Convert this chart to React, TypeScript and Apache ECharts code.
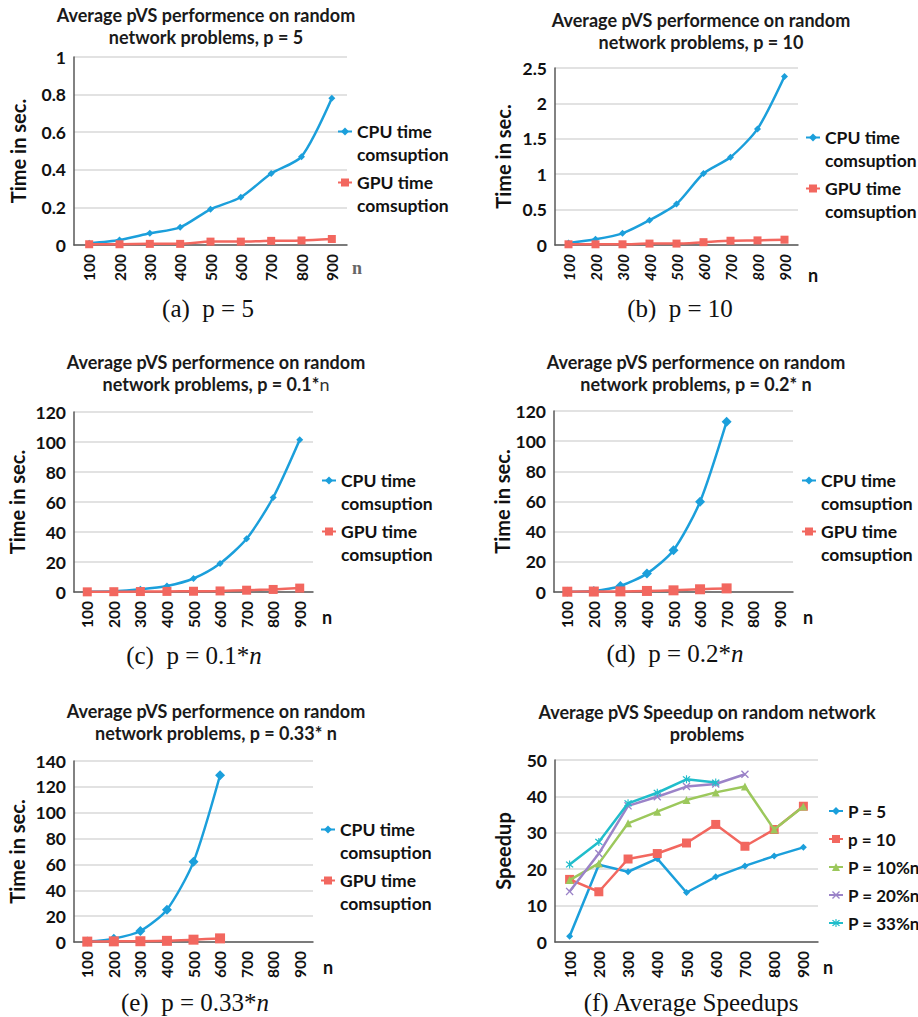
import React, { useEffect, useRef } from "react";
import * as echarts from "echarts";

// ---------- data ----------
const nCategories = ["100", "200", "300", "400", "500", "600", "700", "800", "900"];

const cpuP5 = [0.009, 0.027, 0.062, 0.094, 0.19, 0.254, 0.38, 0.47, 0.78];
const gpuP5 = [0.004, 0.004, 0.006, 0.006, 0.018, 0.018, 0.022, 0.024, 0.032];

const cpuP10 = [0.03, 0.08, 0.165, 0.35, 0.58, 1.01, 1.24, 1.64, 2.38];
const gpuP10 = [0.01, 0.01, 0.01, 0.02, 0.02, 0.04, 0.06, 0.065, 0.075];

const cpuP01n = [0.2, 0.5, 1.8, 4, 9, 19, 35.5, 63, 101.5];
const gpuP01n = [0.1, 0.2, 0.3, 0.4, 0.5, 0.7, 1.2, 1.7, 2.6];

const cpuP02n = [0.2, 0.7, 4, 12.2, 27.7, 59.8, 112.9, null, null];
const gpuP02n = [0.2, 0.3, 0.4, 0.7, 1.1, 1.8, 2.4, null, null];

const cpuP033n = [0.3, 2.6, 8.5, 25, 62, 129, null, null, null];
const gpuP033n = [0.3, 0.5, 0.6, 0.9, 1.8, 2.8, null, null, null];

const speedupP5 = [1.6, 21.2, 19.3, 22.9, 13.6, 17.9, 20.9, 23.6, 26.0];
const speedupP10 = [17.2, 13.8, 22.8, 24.3, 27.2, 32.3, 26.3, 30.9, 37.3];
const speedupP10pn = [17.0, 21.6, 32.6, 35.8, 39.0, 41.1, 42.7, 30.9, 37.2];
const speedupP20pn = [13.9, 24.3, 37.4, 39.9, 42.7, 43.4, 46.1, null, null];
const speedupP33pn = [21.3, 27.5, 38.1, 41.0, 44.7, 43.8, null, null, null];

const speedupLegend = ["P = 5", "p = 10", "P = 10%n", "P = 20%n", "P = 33%n"];

// ---------- styles ----------
const SANS = "Lato";
const SERIF = "Liberation Serif";
const C_CPU = "#1b9fdb";
const C_GPU = "#f2675f";
const C_GREEN = "#9cc85c";
const C_PURPLE = "#9b83c8";
const C_CYAN = "#20bdcb";
const AXIS = "#595959";
const GRIDC = "#d9d9d9";
const TXT = "#111";

const X_PATH = "path://M0,1.2L1.2,0L5,3.8L8.8,0L10,1.2L6.2,5L10,8.8L8.8,10L5,6.2L1.2,10L0,8.8L3.8,5Z";
const AST_PATH =
  "path://M0,1.2L1.2,0L5,3.8L8.8,0L10,1.2L6.2,5L10,8.8L8.8,10L5,6.2L1.2,10L0,8.8L3.8,5ZM4.3,-1H5.7V11H4.3Z";

type Panel = {
  grid: { left: number; top: number; width: number; height: number };
  max: number;
  interval: number;
  yName: string;
  nameGap: number;
  italicX?: boolean;
  title: string;
  titleX: number;
  titleY: number;
  caption: string;
  capX: number;
  capY: number;
  nX: number;
  nY: number;
  nSerif?: boolean;
  legendLeft: number;
  legendTop: number;
  symSize: [number, number];
};

const panels: Panel[] = [
  {
    grid: { left: 74, top: 57, width: 273, height: 188 },
    max: 1, interval: 0.2, yName: "Time in sec.", nameGap: 46,
    title: "Average pVS performence on random\nnetwork problems, p = 5", titleX: 206, titleY: 26,
    caption: "(a)  p = 5", capX: 208, capY: 308,
    nX: 357, nY: 268, nSerif: true,
    legendLeft: 337, legendTop: 97, symSize: [7, 8],
  },
  {
    grid: { left: 555, top: 68, width: 243, height: 177 },
    max: 2.5, interval: 0.5, yName: "Time in sec.", nameGap: 42, italicX: true,
    title: "Average pVS performence on random\nnetwork problems, p = 10", titleX: 701, titleY: 31,
    caption: "(b)  p = 10", capX: 680, capY: 308,
    nX: 813, nY: 275,
    legendLeft: 805, legendTop: 103, symSize: [7, 8],
  },
  {
    grid: { left: 74, top: 412, width: 239, height: 180 },
    max: 120, interval: 20, yName: "Time in sec.", nameGap: 47,
    title: "Average pVS performence on random\nnetwork problems, p = 0.1*{l|n}", titleX: 216, titleY: 373,
    caption: "(c)  p = 0.1*{i|n}", capX: 194, capY: 655,
    nX: 327, nY: 617,
    legendLeft: 321, legendTop: 446, symSize: [7, 9],
  },
  {
    grid: { left: 554, top: 411, width: 239, height: 181 },
    max: 120, interval: 20, yName: "Time in sec.", nameGap: 41,
    title: "Average pVS performence on random\nnetwork problems, p = 0.2* n", titleX: 696, titleY: 373,
    caption: "(d)  p = 0.2*{i|n}", capX: 675, capY: 653,
    nX: 808, nY: 617,
    legendLeft: 801, legendTop: 446, symSize: [10, 10],
  },
  {
    grid: { left: 74, top: 761, width: 239, height: 181 },
    max: 140, interval: 20, yName: "Time in sec.", nameGap: 47,
    title: "Average pVS performence on random\nnetwork problems, p = 0.33* n", titleX: 216, titleY: 722,
    caption: "(e)  p = 0.33*{i|n}", capX: 195, capY: 1002,
    nX: 328, nY: 967,
    legendLeft: 320, legendTop: 795, symSize: [10, 10],
  },
  {
    grid: { left: 555, top: 760, width: 263, height: 182 },
    max: 50, interval: 10, yName: "Speedup", nameGap: 42,
    title: "Average pVS Speedup on random network\nproblems", titleX: 707, titleY: 723,
    caption: "(f) Average Speedups", capX: 691, capY: 1002,
    nX: 828, nY: 967,
    legendLeft: 828, legendTop: 801, symSize: [7, 9],
  },
];

const timeData: [(number | null)[], (number | null)[]][] = [
  [cpuP5, gpuP5],
  [cpuP10, gpuP10],
  [cpuP01n, gpuP01n],
  [cpuP02n, gpuP02n],
  [cpuP033n, gpuP033n],
];

function buildOption() {
  const grid: any[] = [];
  const xAxis: any[] = [];
  const yAxis: any[] = [];
  const series: any[] = [];
  const legend: any[] = [];
  const graphic: any[] = [];

  panels.forEach((p, i) => {
    grid.push({ ...p.grid, containLabel: false });
    xAxis.push({
      gridIndex: i,
      type: "category",
      data: nCategories,
      boundaryGap: true,
      axisLine: { lineStyle: { color: AXIS, width: 1.5 } },
      axisTick: { show: false },
      axisLabel: {
        interval: 0,
        rotate: 90,
        margin: 9,
        fontFamily: SANS,
        fontWeight: "bold",
        fontStyle: p.italicX ? "italic" : "normal",
        fontSize: 15.5,
        color: TXT,
      },
    });
    yAxis.push({
      gridIndex: i,
      type: "value",
      min: 0,
      max: p.max,
      interval: p.interval,
      axisLine: { show: true, lineStyle: { color: AXIS, width: 1.5 } },
      axisTick: { show: false },
      splitLine: { lineStyle: { color: GRIDC, width: 1.5 } },
      axisLabel: { margin: 8, fontFamily: SANS, fontWeight: "bold", fontSize: 17.5, color: TXT },
      name: p.yName,
      nameLocation: "middle",
      nameGap: p.nameGap,
      nameRotate: 90,
      nameTextStyle: { fontFamily: SANS, fontWeight: "bold", fontSize: 20, color: TXT },
    });

    graphic.push({
      type: "text",
      x: p.titleX,
      y: p.titleY,
      style: {
        text: p.title,
        align: "center",
        verticalAlign: "middle",
        textAlign: "center",
        textVerticalAlign: "middle",
        fontFamily: SANS,
        fontWeight: "bold",
        fontSize: 18,
        lineHeight: 22.5,
        fill: "#1a1a1a",
        rich: {
          l: { fontFamily: SANS, fontWeight: "normal", fontSize: 18, lineHeight: 22.5, fill: "#333" },
        },
      },
    });
    graphic.push({
      type: "text",
      x: p.capX,
      y: p.capY,
      style: {
        text: p.caption,
        align: "center",
        verticalAlign: "middle",
        textAlign: "center",
        textVerticalAlign: "middle",
        fontFamily: SERIF,
        fontSize: 25,
        fill: "#111",
        rich: { i: { fontFamily: SERIF, fontStyle: "italic", fontSize: 25, fill: "#111" } },
      },
    });
    graphic.push({
      type: "text",
      x: p.nX,
      y: p.nY,
      style: {
        text: "n",
        align: "center",
        verticalAlign: "middle",
        textAlign: "center",
        textVerticalAlign: "middle",
        fontFamily: p.nSerif ? SERIF : SANS,
        fontWeight: "bold",
        fontSize: p.nSerif ? 18 : 18,
        fill: p.nSerif ? "#666" : TXT,
      },
    });

    if (i < 5) {
      const [cpu, gpu] = timeData[i];
      const cpuName = "CPU time comsuption " + i;
      const gpuName = "GPU time comsuption " + i;
      series.push({
        name: cpuName,
        type: "line",
        xAxisIndex: i,
        yAxisIndex: i,
        data: cpu,
        smooth: 0.25,
        symbol: "diamond",
        symbolSize: p.symSize[0],
        lineStyle: { width: 2.5, color: C_CPU },
        itemStyle: { color: C_CPU },
      });
      series.push({
        name: gpuName,
        type: "line",
        xAxisIndex: i,
        yAxisIndex: i,
        data: gpu,
        smooth: 0.25,
        symbol: "rect",
        symbolSize: p.symSize[1],
        lineStyle: { width: 2.5, color: C_GPU },
        itemStyle: { color: C_GPU },
      });
      legend.push({
        data: [cpuName, gpuName],
        orient: "vertical",
        left: p.legendLeft,
        top: p.legendTop,
        padding: 0,
        itemGap: -18,
        itemWidth: 14,
        itemHeight: 10,
        selectedMode: false,
        formatter: (name: string) =>
          name.startsWith("CPU") ? " \nCPU time\ncomsuption" : " \nGPU time\ncomsuption",
        textStyle: { fontFamily: SANS, fontWeight: "bold", fontSize: 17.5, lineHeight: 23, color: TXT },
      });
    } else {
      const sp = [speedupP5, speedupP10, speedupP10pn, speedupP20pn, speedupP33pn];
      const cols = [C_CPU, C_GPU, C_GREEN, C_PURPLE, C_CYAN];
      const syms = ["diamond", "rect", "triangle", X_PATH, AST_PATH];
      const sizes = [7, 9, 8, 8, 8];
      sp.forEach((d, k) => {
        series.push({
          name: speedupLegend[k],
          type: "line",
          xAxisIndex: i,
          yAxisIndex: i,
          data: d,
          symbol: syms[k],
          symbolSize: sizes[k],
          lineStyle: { width: 2.5, color: cols[k] },
          itemStyle: { color: cols[k] },
          z: 2 + k,
        });
      });
      legend.push({
        data: speedupLegend,
        orient: "vertical",
        left: p.legendLeft,
        top: p.legendTop,
        padding: 0,
        itemGap: 8,
        itemWidth: 14,
        itemHeight: 10,
        selectedMode: false,
        textStyle: { fontFamily: SANS, fontWeight: "bold", fontSize: 17, lineHeight: 20, color: TXT },
      });
    }
  });

  return {
    animation: false,
    backgroundColor: "#ffffff",
    grid,
    xAxis,
    yAxis,
    series,
    legend,
    graphic,
  };
}

export default function App() {
  const ref = useRef<HTMLDivElement>(null);
  useEffect(() => {
    if (!ref.current) return;
    const chart = echarts.init(ref.current, undefined, { renderer: "svg" });
    chart.setOption(buildOption() as any);
    return () => chart.dispose();
  }, []);
  return (
    <div
      ref={ref}
      style={{ position: "absolute", left: 0, top: 0, width: 918, height: 1017, background: "#fff" }}
    />
  );
}
